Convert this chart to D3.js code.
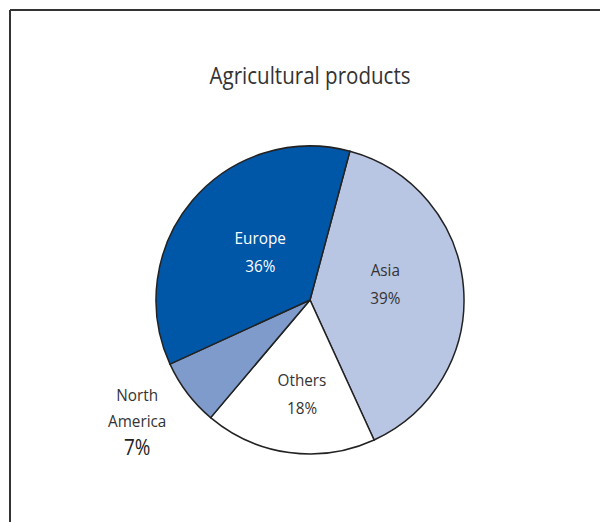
<!DOCTYPE html>
<html>
<head>
<meta charset="utf-8">
<script src="https://cdn.jsdelivr.net/npm/d3@7"></script>
<style>
  body { margin: 0; background: #fff; }
  text { font-family: "Open Sans", "Noto Sans", sans-serif; }
</style>
</head>
<body>
<svg id="chart" width="600" height="522"></svg>
<script>
// data, in drawing order (clockwise from the top right)
var regions = ["Asia", "Others", "North America", "Europe"];
var shares = [39, 18, 7, 36];
var colors = ["#b8c5e3", "#ffffff", "#7e9bcb", "#0057a8"];
var title = "Agricultural products";

// where each label sits: fraction of radius, angle nudge in degrees
var labelSpot = {
	"Asia": {k: 0.50, da: -7.2},
	"Others": {k: 0.61, da: -2.9},
	"North America": {k: 1.37, da: 2.2},
	"Europe": {k: 0.45, da: 3.9}
};

var svg = d3.select("#chart");

// frame (only top and left edges show)
svg.append("line").attr("x1", 10).attr("y1", 10).attr("x2", 600).attr("y2", 10)
   .attr("stroke", "#333").attr("stroke-width", 2);
svg.append("line").attr("x1", 10).attr("y1", 10).attr("x2", 10).attr("y2", 522)
   .attr("stroke", "#333").attr("stroke-width", 2);

svg.append("text")
   .attr("x", 310).attr("y", 84)
   .attr("text-anchor", "middle")
   .attr("font-size", 23)
   .attr("fill", "#333")
   .attr("textLength", 201)
   .attr("lengthAdjust", "spacingAndGlyphs")
   .text(title);

var cx = 310, cy = 300, r = 154;

var data = regions.map(function(d, i){
	return {name: d, value: shares[i], color: colors[i]};
});

var pie = d3.pie()
	.sort(null)
	.value(function(d){ return d.value; })
	.startAngle(15 * Math.PI / 180)
	.endAngle(15 * Math.PI / 180 + 2 * Math.PI);

var arc = d3.arc().innerRadius(0).outerRadius(r);

var g = svg.append("g").attr("transform", "translate(" + cx + "," + cy + ")");

var arcs = pie(data);

g.selectAll("path")
	.data(arcs)
	.enter().append("path")
	.attr("d", arc)
	.attr("fill", function(d){ return d.data.color; })
	.attr("stroke", "#222")
	.attr("stroke-width", 1.5);

function spot(d){
	var s = labelSpot[d.data.name];
	var a = (d.startAngle + d.endAngle) / 2 + s.da * Math.PI / 180;
	return d3.pointRadial(a, r * s.k);
}

arcs.forEach(function(d){
	var c = spot(d);
	var lg = g.append("g")
		.attr("transform", "translate(" + c[0] + "," + c[1] + ") scale(0.9,1)");
	if (d.data.name == "North America") {
		var t2 = lg.append("text").attr("text-anchor", "middle").attr("fill", "#333");
		t2.append("tspan").attr("x", 0).attr("y", -20).attr("font-size", 17).text("North");
		t2.append("tspan").attr("x", 0).attr("y", 6).attr("font-size", 17).text("America");
		t2.append("tspan").attr("x", 0).attr("y", 34).attr("font-size", 21).attr("fill", "#222")
			.text(d.data.value + "%");
	} else {
		var fill = d.data.name == "Europe" ? "#ffffff" : "#333";
		var t = lg.append("text")
			.attr("text-anchor", "middle")
			.attr("font-size", 17)
			.attr("fill", fill);
		t.append("tspan").attr("x", 0).attr("y", -8).text(d.data.name);
		t.append("tspan").attr("x", 0).attr("y", 20).text(d.data.value + "%");
	}
});
</script>
</body>
</html>
